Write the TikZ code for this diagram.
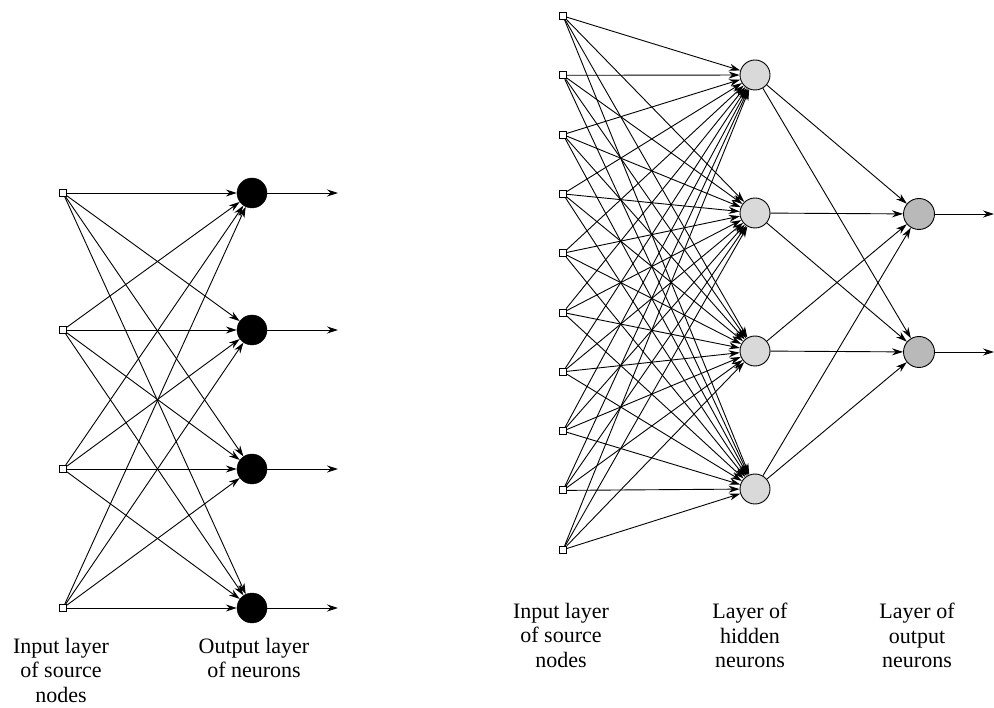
\documentclass[tikz,border=0pt]{standalone}
\usepackage{fontspec}
\setmainfont{Liberation Serif}
\newfontfamily\lblfont{Liberation Serif}
\usetikzlibrary{arrows.meta}
\begin{document}
\begin{tikzpicture}[x=1pt,y=-1pt,
  src/.style={draw, fill=white, minimum size=7pt, inner sep=0pt, line width=0.9pt},
  outn/.style={circle, draw, fill=black, minimum size=30pt, inner sep=0pt},
  hid/.style={circle, draw, fill=gray!30, minimum size=30pt, inner sep=0pt, line width=0.9pt},
  outg/.style={circle, draw, fill=gray!55, minimum size=31pt, inner sep=0pt, line width=0.9pt},
  conn/.style={-{Stealth[length=11pt,width=7pt]}, line width=0.9pt},
  lbl/.style={align=center, inner sep=0pt, font=\lblfont\fontsize{22}{24.5}\selectfont}]
\useasboundingbox (0,0) rectangle (994,708);

% ---------- left network ----------
\foreach \i/\y in {1/193,2/330,3/469,4/608}{
  \node[src] (a\i) at (63,\y) {};
  \node[outn] (b\i) at (252,\y) {};
  \coordinate (bo\i) at (338,\y);
}
\foreach \i in {1,...,4}{
  \foreach \j in {1,...,4}{
    \draw[conn] (a\i) -- (b\j);
  }
  \draw[conn] (b\i) -- (bo\i);
}
\node[lbl, anchor=north] (la) at (61,638) {Input layer\\of source\\nodes};
\node[lbl, anchor=north] (lb) at (254,638) {Output layer\\of neurons};

% ---------- right network ----------
\foreach \i in {1,...,10}{
  \pgfmathsetmacro{\yy}{16+(\i-1)*59.3}
  \node[src] (s\i) at (563,\yy) {};
}
\foreach \k/\y in {1/75,2/213,3/351,4/489}{
  \node[hid] (h\k) at (755,\y) {};
}
\foreach \m/\y in {1/214,2/352}{
  \node[outg] (o\m) at (919,\y) {};
  \coordinate (oo\m) at (994,\y);
}
\foreach \i in {1,...,10}{
  \foreach \k in {1,...,4}{
    \draw[conn] (s\i) -- (h\k);
  }
}
\foreach \k in {1,...,4}{
  \foreach \m in {1,2}{
    \draw[conn] (h\k) -- (o\m);
  }
}
\foreach \m in {1,2}{
  \draw[conn] (o\m) -- (oo\m);
}
\node[lbl, anchor=north] (ra) at (561,603) {Input layer\\of source\\nodes};
\node[lbl, anchor=north] (rb) at (750,603) {Layer of\\hidden\\neurons};
\node[lbl, anchor=north] (rc) at (917,603) {Layer of\\output\\neurons};
\end{tikzpicture}
\end{document}
